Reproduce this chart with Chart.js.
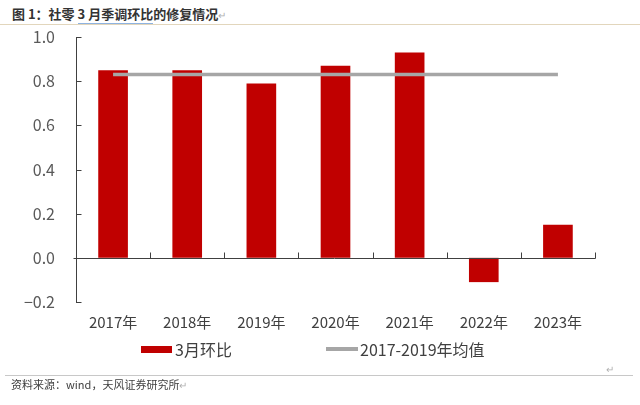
<!DOCTYPE html>
<html><head><meta charset="utf-8">
<script src="https://cdn.jsdelivr.net/npm/chart.js@4/dist/chart.umd.min.js"></script>
<style>
body{margin:0;width:640px;height:405px;background:#fff;position:relative;overflow:hidden;font-family:"Noto Sans CJK SC","Noto Sans",sans-serif;}
#title{position:absolute;left:12px;top:5px;font-size:13px;font-weight:bold;color:#333;white-space:nowrap;line-height:18px;}
#title .u{border-bottom:1px solid #8fb3e0;}
.rm{color:#b0b0b0;font-weight:normal;font-size:10px;}
#tline{position:absolute;left:0;top:24px;width:640px;height:1px;background:#e2d6bc;}
canvas{position:absolute;left:0;top:0;}
.lg{position:absolute;font-size:16px;color:#404040;line-height:20px;top:339px;white-space:nowrap;}
.sw{position:absolute;}
#fline{position:absolute;left:5px;top:375px;width:628px;height:1px;background:#c8c8c8;}
#foot{position:absolute;left:11px;top:376px;font-size:11px;color:#404040;line-height:16px;white-space:nowrap;}
#rm2{position:absolute;left:606px;top:361px;}
</style></head>
<body>
<div id="title">图 1：社零 <span class="u">3 月季调环比</span>的修复情况<span class="rm">↵</span></div>
<div id="tline"></div>
<canvas id="c" width="640" height="405"></canvas>
<div id="legend"></div>
<div id="rm2" class="rm">↵</div>
<div id="fline"></div>
<div id="foot">资料来源：wind，天风证券研究所<span class="rm">↵</span></div>
<script>
const categories = ['2017年','2018年','2019年','2020年','2021年','2022年','2023年'];
const marchMoM = [0.85, 0.85, 0.79, 0.87, 0.93, -0.11, 0.15];
const avg2017to2019 = [0.83, 0.83, 0.83, 0.83, 0.83, 0.83, 0.83];
const seriesNames = ['3月环比', '2017-2019年均值'];
const yMin = -0.2, yMax = 1.0, yStep = 0.2;

const axisPlugin = {
  id: 'customAxes',
  afterDatasetsDraw(chart) {
    const {ctx, chartArea: a, scales: {x, y}} = chart;
    ctx.save();
    ctx.strokeStyle = '#404040';
    ctx.lineWidth = 1;
    const lx = Math.round(a.left) + 0.5;
    ctx.beginPath();
    ctx.moveTo(lx, Math.round(a.top));
    ctx.lineTo(lx, Math.round(a.bottom) + 1);
    y.ticks.forEach(t => {
      const py = Math.round(y.getPixelForValue(t.value)) + 0.5;
      ctx.moveTo(lx, py);
      ctx.lineTo(lx + 5, py);
    });
    const zy = Math.round(y.getPixelForValue(0)) + 0.5;
    ctx.moveTo(lx - 3, zy);
    ctx.lineTo(Math.round(a.right) + 0.5, zy);
    const n = categories.length;
    const w = (a.right - a.left) / n;
    for (let i = 1; i <= n; i++) {
      const px = Math.round(a.left + i * w) + 0.5;
      ctx.moveTo(px, zy);
      ctx.lineTo(px, zy - 6);
    }
    ctx.stroke();
    ctx.restore();
  }
};

const chart = new Chart(document.getElementById('c'), {
  type: 'bar',
  data: {
    labels: categories,
    datasets: [
      {type: 'line', label: seriesNames[1], data: avg2017to2019, borderColor: '#a6a6a6', backgroundColor: '#a6a6a6', borderWidth: 3.5, pointRadius: 0, order: 0, tension: 0},
      {type: 'bar', label: seriesNames[0], data: marchMoM, backgroundColor: '#c00000', borderWidth: 0, barPercentage: 0.4, categoryPercentage: 1, order: 1}
    ]
  },
  options: {
    responsive: false,
    devicePixelRatio: 1,
    animation: false,
    layout: {padding: {left: 0, top: 37, right: 45, bottom: 72}},
    plugins: {legend: {display: false}, tooltip: {enabled: false}, title: {display: false}},
    scales: {
      x: {
        grid: {display: false, drawTicks: false},
        border: {display: false},
        ticks: {padding: 11, color: '#404040', font: {family: '"Noto Sans CJK SC"', size: 15}, maxRotation: 0},
        afterFit(s) { s.height = 31; }
      },
      y: {
        min: yMin, max: yMax,
        grid: {display: false, drawTicks: false},
        border: {display: false},
        ticks: {stepSize: yStep, padding: 21, color: '#595959', font: {family: '"Noto Sans CJK SC"', size: 16},
          callback: v => (Math.abs(v) < 1e-9 ? 0 : v).toFixed(1).replace('-', '\u2212')},
        afterFit(s) { s.width = 76; }
      }
    }
  },
  plugins: [axisPlugin]
});

// HTML legend built from dataset labels
const lg = document.getElementById('legend');
const items = [
  {label: chart.data.datasets[1].label, color: chart.data.datasets[1].backgroundColor, sx: 141, sw: 31, sh: 7, tx: 175},
  {label: chart.data.datasets[0].label, color: chart.data.datasets[0].borderColor, sx: 326, sw: 32, sh: 4, tx: 360}
];
items.forEach(it => {
  const s = document.createElement('div');
  s.className = 'sw';
  s.style.left = it.sx + 'px';
  s.style.top = (349 - it.sh / 2) + 'px';
  s.style.width = it.sw + 'px';
  s.style.height = it.sh + 'px';
  s.style.background = it.color;
  lg.appendChild(s);
  const t = document.createElement('div');
  t.className = 'lg';
  t.style.left = it.tx + 'px';
  t.textContent = it.label;
  lg.appendChild(t);
});
</script>
</body></html>
